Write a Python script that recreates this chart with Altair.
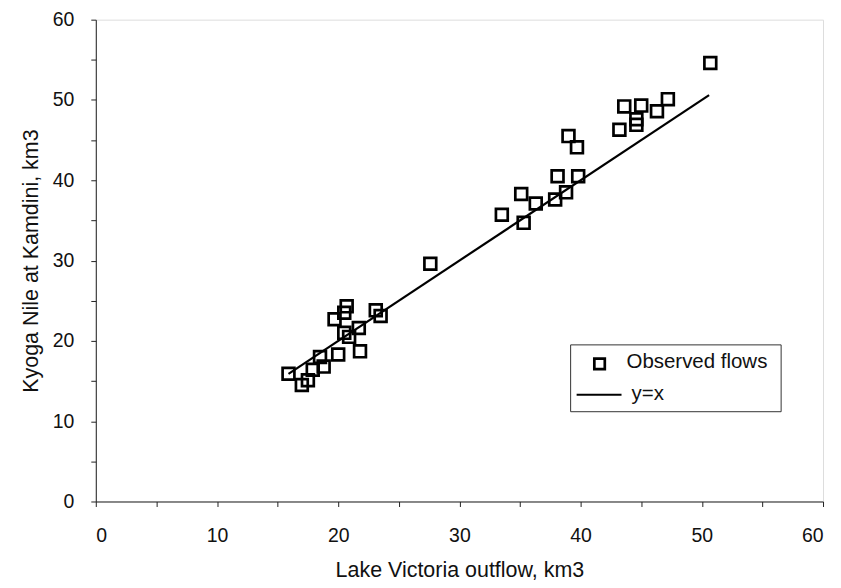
import altair as alt
import pandas as pd

# Observed flows (Lake Victoria outflow vs Kyoga Nile at Kamdini), km3
obs_x = [15.9, 17.0, 17.5, 17.9, 18.8, 18.5, 20.0, 21.8, 20.5, 20.9, 21.7, 19.7, 20.5, 20.7, 23.1, 23.5,
         27.6,
         33.5, 35.3, 35.1, 36.3, 37.9, 38.8, 38.1, 39.8, 39.0, 39.7,
         43.2, 44.6, 44.6, 43.6, 45.0, 46.3, 47.2, 50.7]
obs_y = [15.9, 14.5, 15.1, 16.4, 16.8, 18.0, 18.3, 18.7, 21.0, 20.5, 21.6, 22.7, 23.5, 24.3, 23.8, 23.1,
         29.6,
         35.7, 34.7, 38.3, 37.1, 37.6, 38.5, 40.5, 40.5, 45.5, 44.1,
         46.3, 47.6, 46.9, 49.2, 49.3, 48.6, 50.1, 54.6]

# y = x reference line
line_x = [15.9, 50.6]
line_y = [15.9, 50.6]

tick_values = list(range(0, 61, 5))

FONT = "Liberation Sans"

obs = pd.DataFrame({"x": obs_x, "y": obs_y})
ref = pd.DataFrame({"x": line_x, "y": line_y})

xscale = alt.Scale(domain=[0, 60], nice=False, zero=False)
yscale = alt.Scale(domain=[0, 60], nice=False, zero=False)

xaxis = alt.Axis(values=tick_values, labelExpr="datum.value % 10 == 0 ? datum.label : ''",
                 title="Lake Victoria outflow, km3", grid=False, tickSize=5, labelPadding=20,
                 titlePadding=15, labelFontSize=19.5, titleFontSize=21.5, labelFont=FONT, titleFont=FONT,
                 titleFontWeight="normal", domainColor="#222", tickColor="#222", labelColor="#111",
                 titleColor="#111")
yaxis = alt.Axis(values=tick_values, labelExpr="datum.value % 10 == 0 ? datum.label : ''",
                 title="Kyoga Nile at Kamdini, km3", grid=False, tickSize=5, labelPadding=17,
                 titlePadding=10, labelFontSize=19.5, titleFontSize=21.5, labelFont=FONT, titleFont=FONT,
                 titleFontWeight="normal", domainColor="#222", tickColor="#222", labelColor="#111",
                 titleColor="#111")

line = alt.Chart(ref).mark_line(color="black", strokeWidth=2.2).encode(
    x=alt.X("x:Q", scale=xscale, axis=xaxis),
    y=alt.Y("y:Q", scale=yscale, axis=yaxis),
)

points = alt.Chart(obs).mark_point(shape="square", filled=False, color="black",
                                   strokeWidth=2.7, size=140, opacity=1).encode(
    x=alt.X("x:Q", scale=xscale),
    y=alt.Y("y:Q", scale=yscale),
)

# Manual legend box
leg_box = alt.Chart(pd.DataFrame({"a": [0]})).mark_rect(
    fill="white", stroke="#333", strokeWidth=1).encode(
    x=alt.value(476), x2=alt.value(687), y=alt.value(326), y2=alt.value(393))
leg_sq = alt.Chart(pd.DataFrame({"a": [0]})).mark_point(
    shape="square", filled=False, color="black", strokeWidth=2.7, size=110, opacity=1).encode(
    x=alt.value(505), y=alt.value(345))
leg_line = alt.Chart(pd.DataFrame({"a": [0]})).mark_rule(color="black", strokeWidth=2).encode(
    x=alt.value(482), x2=alt.value(527), y=alt.value(376))
leg_t1 = alt.Chart(pd.DataFrame({"t": ["Observed flows"]})).mark_text(
    align="left", baseline="middle", fontSize=20.5, font=FONT, color="#111").encode(
    x=alt.value(532), y=alt.value(343), text="t:N")
leg_t2 = alt.Chart(pd.DataFrame({"t": ["y=x"]})).mark_text(
    align="left", baseline="middle", fontSize=20.5, font=FONT, color="#111").encode(
    x=alt.value(537), y=alt.value(375), text="t:N")

chart = alt.layer(line, points, leg_box, leg_sq, leg_line, leg_t1, leg_t2).properties(
    width=729, height=483,
    autosize=alt.AutoSizeParams(type="none"),
    padding={"left": 88, "top": 11, "right": 10, "bottom": 80},
).configure_view(stroke="#222", strokeWidth=1).configure(background="white")

chart.save("out.html", embed_options={"renderer": "svg", "actions": False})
